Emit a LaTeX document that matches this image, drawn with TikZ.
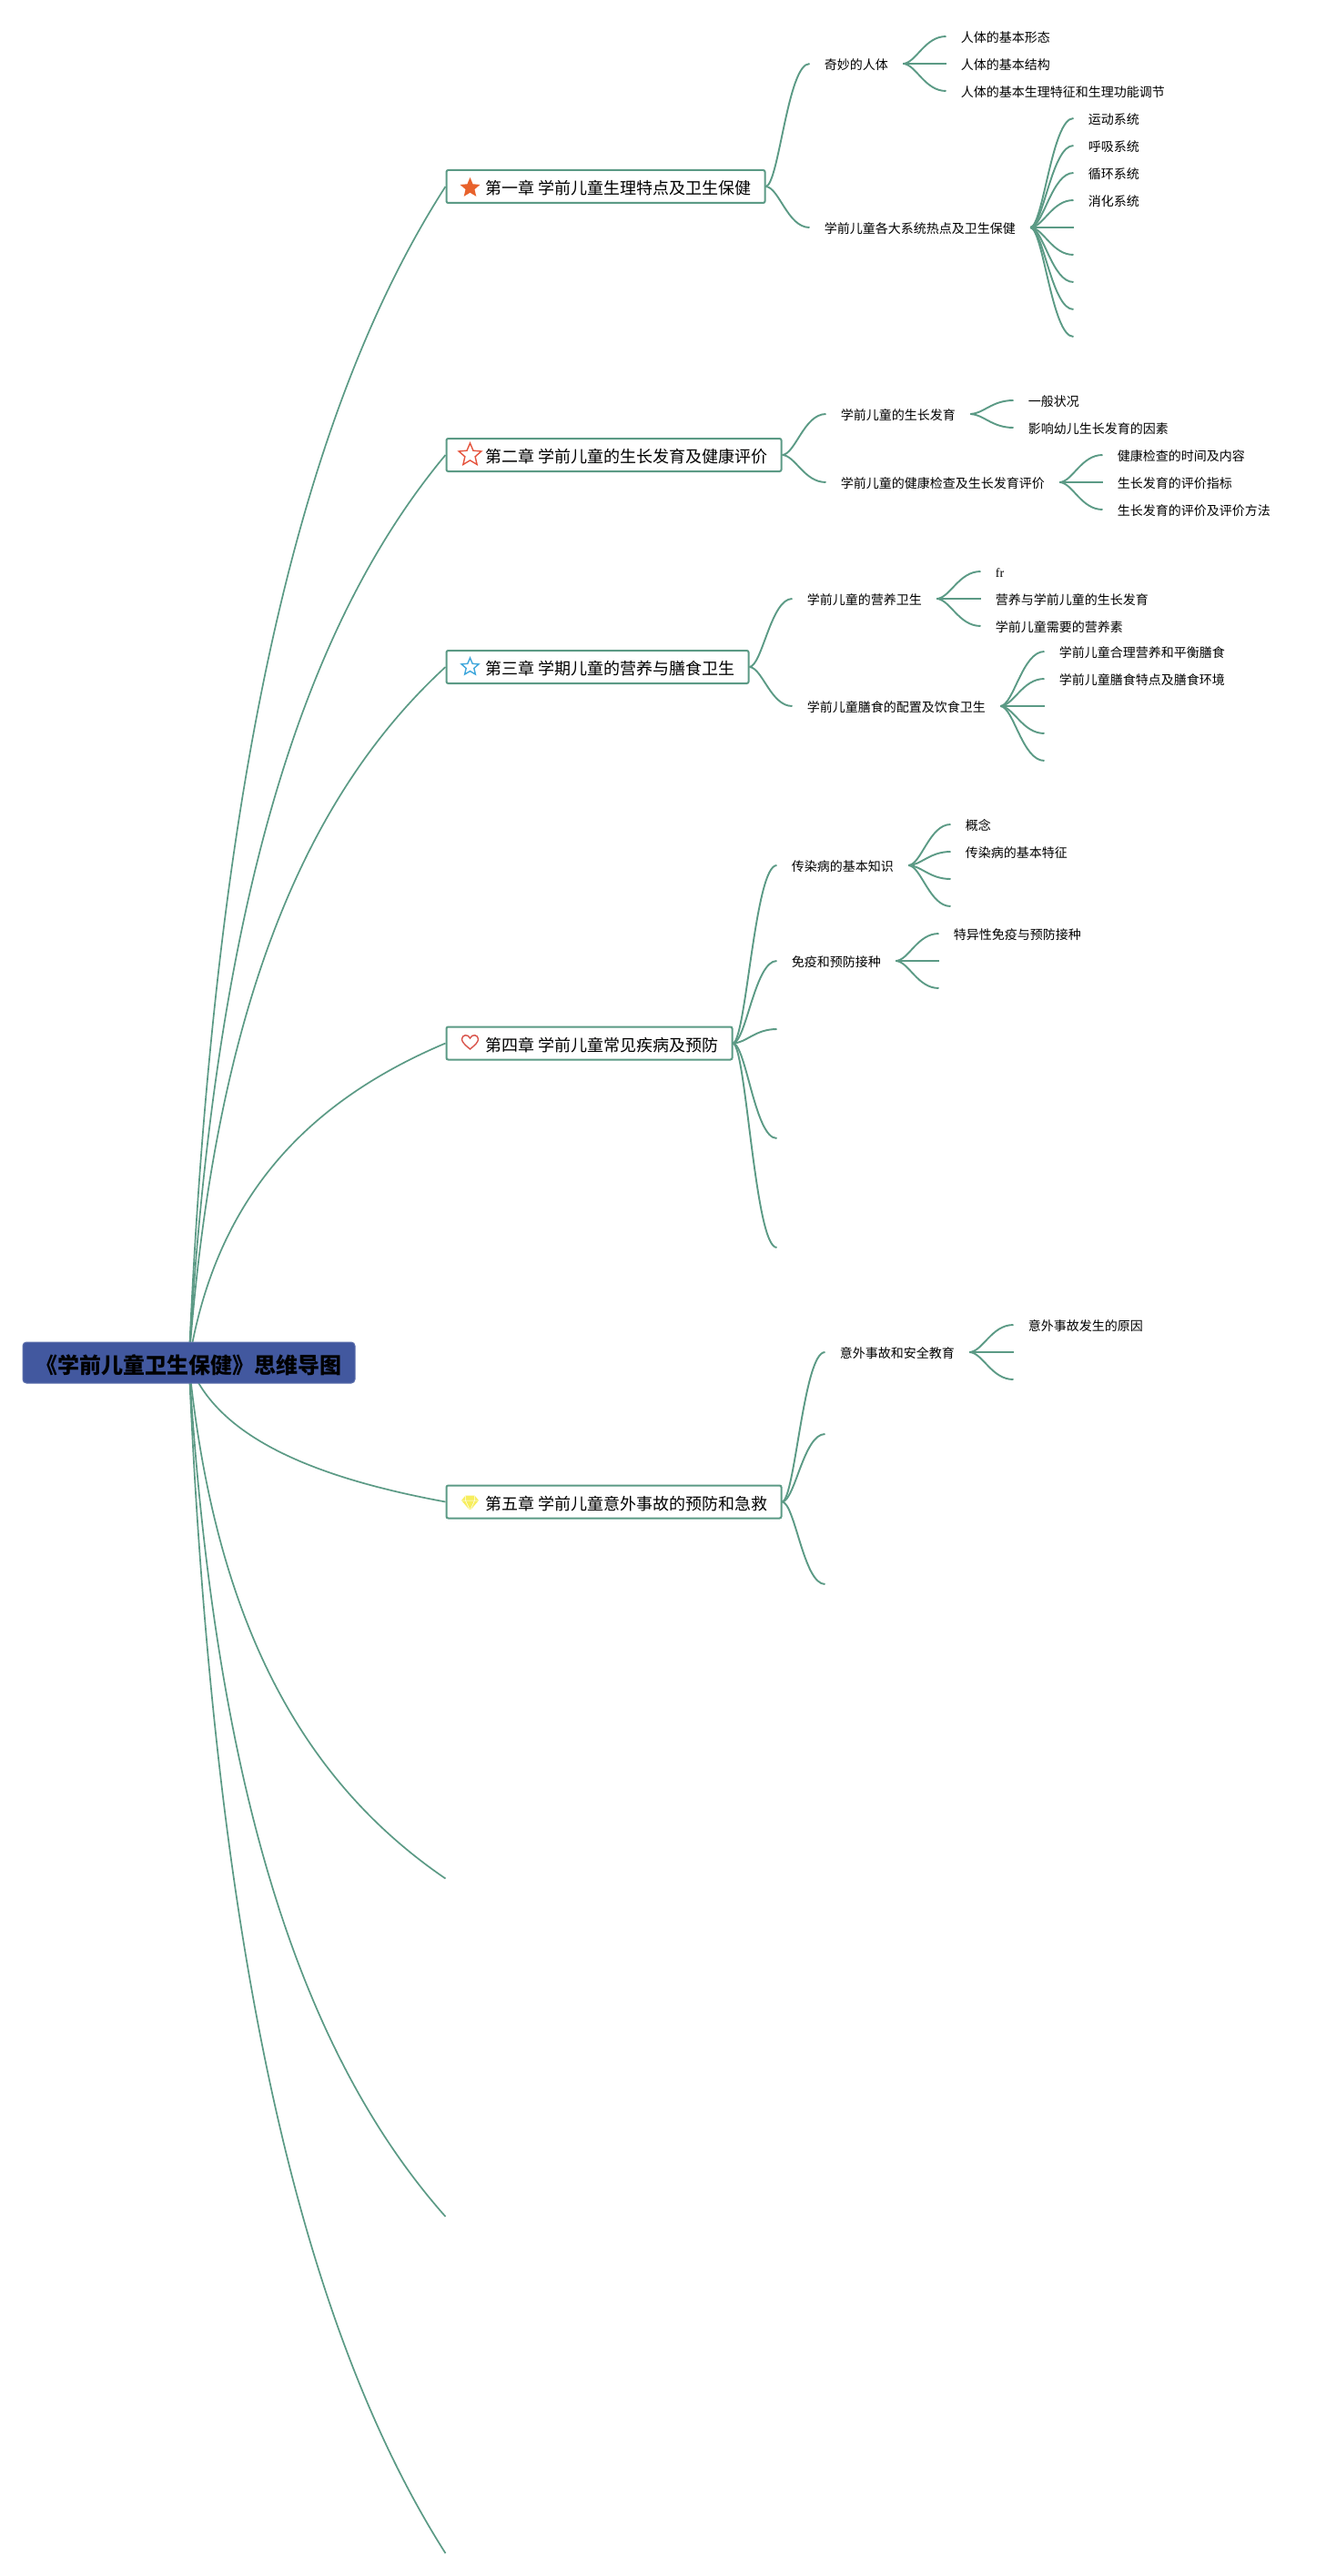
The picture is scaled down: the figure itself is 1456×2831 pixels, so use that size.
\documentclass[tikz,border=0pt]{standalone}
\usepackage{fontspec}
\setmainfont{Noto Sans CJK SC}
\newfontfamily\frfont{Liberation Serif}
\usetikzlibrary{calc,shapes.geometric}
\pgfdeclarelayer{background}
\pgfsetlayers{background,main}
\definecolor{linkc}{HTML}{5B9A85}
\definecolor{rootc}{HTML}{42589F}
\definecolor{staro}{HTML}{E8622C}
\definecolor{starr}{HTML}{E5533D}
\definecolor{starb}{HTML}{3FA7DC}
\definecolor{heartc}{HTML}{D9534A}
\definecolor{gemc}{HTML}{F7EE5E}
\tikzset{
  link/.style={draw=linkc,line width=0.95pt},
  rootlink/.style={draw=linkc,line width=0.85pt},
  chapbox/.style={draw=linkc,line width=1pt,rounded corners=1pt,fill=white,anchor=west,
    minimum height=18pt,inner xsep=7.5pt,inner ysep=0pt,text height=9pt,text depth=0.5pt,
    font=\fontsize{9pt}{11pt}\selectfont,text=black},
  rootbox/.style={draw=rootc!85!white,line width=0.5pt,rounded corners=2pt,fill=rootc,
    minimum width=182.5pt,minimum height=22.5pt,inner sep=0pt,text=black,text height=12.5pt,text depth=0.7pt,
    font=\fontsize{12pt}{15pt}\selectfont\bfseries},
  topic/.style={anchor=west,inner xsep=8pt,inner ysep=0pt,text=black,text height=7.4pt,text depth=0.8pt,
    font=\fontsize{7pt}{9pt}\selectfont},
  staricon/.style={star,star points=5,star point ratio=2.2,inner sep=0pt},
}
\newcommand{\sbranch}[2]{\draw[link] let \p1=(#1),\p2=(#2) in (\p1) .. controls ({\x1+0.3*(\x2-\x1)},{\y1+0.02*(\y2-\y1)}) and ({\x1+0.5*(\x2-\x1)},\y2) .. (\p2);}
\newcommand{\rbranch}[1]{\draw[rootlink] let \p1=(root.center),\p2=(#1) in (\p1) .. controls ({\x1+0.1*(\x2-\x1)},{\y1+0.5*(\y2-\y1)}) and ({\x1+0.44*(\x2-\x1)},{\y1+0.81*(\y2-\y1)}) .. (\p2);}
\newcommand{\chgap}{\hspace*{14pt}}
\begin{document}
\begin{tikzpicture}[x=0.5pt,y=-0.5pt]
\useasboundingbox (1.5,0) rectangle (1457.5,2831);
% root and chapters
\node[rootbox] (root) at (209,1497.5) {《学前儿童卫生保健》思维导图};
\node[chapbox] (c1) at (491,205) {\chgap 第一章 学前儿童生理特点及卫生保健};
\node[chapbox] (c2) at (491,500) {\chgap 第二章 学前儿童的生长发育及健康评价};
\node[chapbox] (c3) at (491,733) {\chgap 第三章 学期儿童的营养与膳食卫生};
\node[chapbox] (c4) at (491,1146.5) {\chgap 第四章 学前儿童常见疾病及预防};
\node[chapbox] (c5) at (491,1650.5) {\chgap 第五章 学前儿童意外事故的预防和急救};
\coordinate (r6) at (491,2064.5);
\coordinate (r7) at (491,2436);
\coordinate (r8) at (491,2806);
% icons
\node[staricon,fill=staro,minimum size=11.5pt] (i1) at (518,206.5) {};
\node[staricon,draw=starr,line width=0.7pt,fill=white,minimum size=13pt] (i2) at (518,500) {};
\node[staricon,draw=starb,line width=0.7pt,fill=white,minimum size=10pt] (i3) at (518,733) {};
\draw[draw=heartc,line width=0.7pt] (518,1153) .. controls (512,1148) and (509,1145) .. (509,1142) .. controls (509,1137) and (516,1136) .. (518,1141) .. controls (520,1136) and (527,1137) .. (527,1142) .. controls (527,1145) and (524,1148) .. (518,1153) -- cycle;
\fill[gemc] (513,1643.5) -- (523,1643.5) -- (527.5,1649) -- (518,1660) -- (508.5,1649) -- cycle;
\draw[white,line width=0.25pt] (508.5,1649) -- (527.5,1649) (513,1649) -- (518,1660) -- (523,1649) (513,1643.5) -- (513,1649) (523,1643.5) -- (523,1649);
% chapter 1
\node[topic] (a1) at (891,70) {奇妙的人体};
\node[topic] (a11) at (1041,40) {人体的基本形态};
\node[topic] (a12) at (1041,70) {人体的基本结构};
\node[topic] (a13) at (1041,100) {人体的基本生理特征和生理功能调节};
\node[topic] (a2) at (891,250) {学前儿童各大系统热点及卫生保健};
\node[topic] (a21) at (1181,130) {运动系统};
\node[topic] (a22) at (1181,160) {呼吸系统};
\node[topic] (a23) at (1181,190) {循环系统};
\node[topic] (a24) at (1181,220) {消化系统};
\coordinate (a25) at (1181,250);
\coordinate (a26) at (1181,280);
\coordinate (a27) at (1181,310);
\coordinate (a28) at (1181,340);
\coordinate (a29) at (1181,370);
% chapter 2
\node[topic] (b1) at (909,455) {学前儿童的生长发育};
\node[topic] (b11) at (1115,440) {一般状况};
\node[topic] (b12) at (1115,470) {影响幼儿生长发育的因素};
\node[topic] (b2) at (909,530) {学前儿童的健康检查及生长发育评价};
\node[topic] (b21) at (1213,500) {健康检查的时间及内容};
\node[topic] (b22) at (1213,530) {生长发育的评价指标};
\node[topic] (b23) at (1213,560) {生长发育的评价及评价方法};
% chapter 3
\node[topic] (d1) at (872,658) {学前儿童的营养卫生};
\node[topic] (d11) at (1079,628) {\frfont fr};
\node[topic] (d12) at (1079,658) {营养与学前儿童的生长发育};
\node[topic] (d13) at (1079,688) {学前儿童需要的营养素};
\node[topic] (d2) at (872,776) {学前儿童膳食的配置及饮食卫生};
\node[topic] (d21) at (1149,716) {学前儿童合理营养和平衡膳食};
\node[topic] (d22) at (1149,746) {学前儿童膳食特点及膳食环境};
\coordinate (d23) at (1149,776);
\coordinate (d24) at (1149,806);
\coordinate (d25) at (1149,836);
% chapter 4
\node[topic] (e1) at (855,951) {传染病的基本知识};
\node[topic] (e11) at (1046,906) {概念};
\node[topic] (e12) at (1046,936) {传染病的基本特征};
\coordinate (e13) at (1046,966);
\coordinate (e14) at (1046,996);
\node[topic] (e2) at (855,1056) {免疫和预防接种};
\node[topic] (e21) at (1033,1026) {特异性免疫与预防接种};
\coordinate (e22) at (1033,1056);
\coordinate (e23) at (1033,1086);
\coordinate (e3) at (855,1131);
\coordinate (e4) at (855,1251);
\coordinate (e5) at (855,1371);
% chapter 5
\node[topic] (g1) at (908,1486) {意外事故和安全教育};
\node[topic] (g11) at (1115,1456) {意外事故发生的原因};
\coordinate (g12) at (1115,1486);
\coordinate (g13) at (1115,1516);
\coordinate (g2) at (908,1576);
\coordinate (g3) at (908,1741);
% connectors
\begin{pgfonlayer}{background}
\rbranch{c1.west}\rbranch{c2.west}\rbranch{c3.west}\rbranch{c4.west}\rbranch{c5.west}
\rbranch{r6}\rbranch{r7}\rbranch{r8}
\sbranch{c1.east}{a1.west}\sbranch{c1.east}{a2.west}
\sbranch{a1.east}{a11.west}\sbranch{a1.east}{a12.west}\sbranch{a1.east}{a13.west}
\sbranch{a2.east}{a21.west}\sbranch{a2.east}{a22.west}\sbranch{a2.east}{a23.west}\sbranch{a2.east}{a24.west}
\sbranch{a2.east}{a25}\sbranch{a2.east}{a26}\sbranch{a2.east}{a27}\sbranch{a2.east}{a28}\sbranch{a2.east}{a29}
\sbranch{c2.east}{b1.west}\sbranch{c2.east}{b2.west}
\sbranch{b1.east}{b11.west}\sbranch{b1.east}{b12.west}
\sbranch{b2.east}{b21.west}\sbranch{b2.east}{b22.west}\sbranch{b2.east}{b23.west}
\sbranch{c3.east}{d1.west}\sbranch{c3.east}{d2.west}
\sbranch{d1.east}{d11.west}\sbranch{d1.east}{d12.west}\sbranch{d1.east}{d13.west}
\sbranch{d2.east}{d21.west}\sbranch{d2.east}{d22.west}\sbranch{d2.east}{d23}\sbranch{d2.east}{d24}\sbranch{d2.east}{d25}
\sbranch{c4.east}{e1.west}\sbranch{c4.east}{e2.west}\sbranch{c4.east}{e3}\sbranch{c4.east}{e4}\sbranch{c4.east}{e5}
\sbranch{e1.east}{e11.west}\sbranch{e1.east}{e12.west}\sbranch{e1.east}{e13}\sbranch{e1.east}{e14}
\sbranch{e2.east}{e21.west}\sbranch{e2.east}{e22}\sbranch{e2.east}{e23}
\sbranch{c5.east}{g1.west}\sbranch{c5.east}{g2}\sbranch{c5.east}{g3}
\sbranch{g1.east}{g11.west}\sbranch{g1.east}{g12}\sbranch{g1.east}{g13}
\end{pgfonlayer}
\end{tikzpicture}
\end{document}
